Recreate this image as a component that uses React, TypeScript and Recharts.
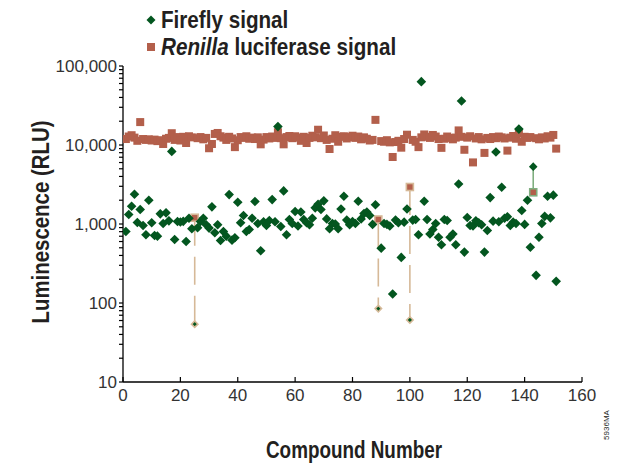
import React from 'react';
import { ScatterChart, Scatter, XAxis, YAxis, ReferenceLine } from 'recharts';

// compound numbers 1..151 on the x axis
const compounds = Array.from({ length: 151 }, (_, i) => i + 1);

const fireflySignal = [
  803, 1318, 1678, 2377, 1045, 1524, 958, 731, 1995, 1035,
  716, 702, 1345, 1014, 1384, 1096, 8300, 637, 1076, 1060,
  1080, 601, 1183, 869, 54, 896, 1076, 1183, 977, 888,
  1648, 774, 977, 619, 804, 702, 2357, 625, 670, 1888,
  1035, 1280, 804, 853, 1183, 1923, 1014, 459, 1070, 958,
  1106, 2037, 1070, 17100, 930, 2624, 731, 1140, 1014, 1438,
  943, 1418, 1140, 1035, 977, 1183, 1600, 1778, 1524, 1963,
  1160, 869, 1014, 999, 869, 1551, 2244, 1121, 977, 1076,
  1014, 1943, 1160, 1355, 1418, 1280, 988, 1750, 85, 495,
  1014, 988, 943, 130, 1121, 1035, 378, 1055, 1551, 61,
  1121, 1140, 731, 63400, 1943, 1140, 746, 852, 1014, 680,
  546, 1140, 1106, 680, 746, 546, 3214, 36100, 441, 1209,
  958, 943, 1096, 1035, 977, 441, 826, 2160, 1087, 8150,
  1070, 2917, 1183, 1234, 958, 1055, 1014, 15900, 1479, 988,
  1995, 507, 5318, 224, 680, 1014, 1250, 2244, 1197, 2319,
  188,
];

const renillaSignal = [
  11900, 12800, 13300, 12400, 11300, 19500, 11900, 11600, 11800, 11400,
  11700, 11200, 11500, 10300, 12000, 12300, 14100, 11600, 12600, 11400,
  12700, 10600, 12900, 12500, 1200, 12200, 12600, 11800, 12300, 9100,
  10300, 13800, 14200, 12900, 12400, 11600, 12700, 12100, 9400, 11500,
  12600, 12300, 12900, 12000, 12400, 11900, 12500, 10200, 11700, 12600,
  12100, 12800, 12300, 14500, 12200, 10200, 12600, 13000, 12200, 12900,
  12400, 11300, 12700, 10600, 12300, 13100, 12500, 15600, 12200, 13200,
  11600, 8900, 12000, 13300, 11000, 12700, 12900, 12100, 12600, 13100,
  12300, 12800, 11800, 12500, 12000, 11400, 11600, 20800, 1140, 11200,
  11000, 11500, 10800, 7050, 10900, 11300, 9250, 11900, 13500, 2940,
  11600, 11000, 9400, 12500, 13600, 12700, 12300, 13400, 12800, 11900,
  9200, 12000, 12800, 12300, 11800, 12400, 15300, 12700, 8700, 12400,
  12900, 6020, 12100, 12600, 11800, 7940, 12300, 11900, 12600, 12200,
  12800, 12500, 12100, 8490, 12400, 13000, 12000, 14000, 11000, 12700,
  12300, 12600, 2520, 12200, 11800, 12500, 12100, 12900, 12400, 13400,
  9000,
];

// compounds flagged with a dashed connector
const hitCompounds = [25, 89, 100, 143];

const xTicks = [0, 20, 40, 60, 80, 100, 120, 140, 160];
const yDecades = [10, 100, 1000, 10000, 100000];
const yTicks = yDecades.flatMap((d, i) =>
  i === yDecades.length - 1 ? [d] : [1, 2, 3, 4, 5, 6, 7, 8, 9].map((m) => m * d)
);

const GREEN = '#03561f';
const BROWN = '#b35f4b';
const TAN = '#d6b998';
const LIGHT_GREEN = '#7fae7f';
const boldFont = "'Liberation Sans', Arial, sans-serif";
const tickFont = "'Liberation Sans', Arial, sans-serif";

const fireflyData = compounds.map((c, i) => ({
  x: c, y: fireflySignal[i], hit: hitCompounds.includes(c), up: fireflySignal[i] > renillaSignal[i],
}));
const renillaData = compounds.map((c, i) => ({
  x: c, y: renillaSignal[i], hit: hitCompounds.includes(c), up: fireflySignal[i] > renillaSignal[i],
}));

const DiamondShape = (props: any) => {
  const { cx, cy, payload } = props;
  if (cx == null || cy == null) return null;
  if (payload.hit && !payload.up) {
    const r = 3.2;
    return (
      <path d={`M${cx},${cy - r}L${cx + r},${cy}L${cx},${cy + r}L${cx - r},${cy}Z`}
        fill={GREEN} stroke={TAN} strokeWidth={1.6} />
    );
  }
  const r = payload.hit ? 4.3 : 4.8;
  return <path d={`M${cx},${cy - r}L${cx + r},${cy}L${cx},${cy + r}L${cx - r},${cy}Z`} fill={GREEN} />;
};

const SquareShape = (props: any) => {
  const { cx, cy, payload } = props;
  if (cx == null || cy == null) return null;
  if (payload.hit) {
    return (
      <rect x={cx - 3.5} y={cy - 3.5} width={7} height={7} fill={BROWN}
        stroke={payload.up ? LIGHT_GREEN : TAN} strokeWidth={1.6} />
    );
  }
  return <rect x={cx - 4} y={cy - 4} width={8} height={8} fill={BROWN} />;
};

const XTick = (props: any) => {
  const { x, y, payload } = props;
  return (
    <g>
      <line x1={x} x2={x} y1={y} y2={y - 5} stroke="#000" strokeWidth={1.2} />
      <text x={x} y={y + 19} textAnchor="middle" fill="#333" fontSize={17} fontFamily={tickFont}>
        {payload.value}
      </text>
    </g>
  );
};

const fmtY = (v: number) => (yDecades.includes(v) ? v.toLocaleString('en-US') : '');

const titleStyle: React.CSSProperties = {
  position: 'absolute', fontFamily: boldFont, fontWeight: 700, color: '#231f20', whiteSpace: 'nowrap',
};

export default function App() {
  return (
    <div style={{ position: 'absolute', left: 0, top: 0, width: 623, height: 463, background: '#fff', overflow: 'hidden' }}>
      <ScatterChart width={623} height={463} margin={{ top: 66, right: 41, bottom: 51, left: 0 }}>
        <XAxis
          type="number" dataKey="x" domain={[0, 160]} ticks={xTicks} height={30}
          tickLine={false} tickSize={0} tickMargin={0} tick={<XTick />}
          axisLine={{ stroke: '#000', strokeWidth: 1.3 }} allowDataOverflow
        />
        <YAxis
          type="number" dataKey="y" scale="log" domain={[10, 100000]} ticks={yTicks} width={123}
          tickFormatter={fmtY} tickSize={4} tickMargin={2} interval={0}
          tickLine={{ stroke: '#000', strokeWidth: 1.2 }}
          axisLine={{ stroke: '#000', strokeWidth: 1.3 }}
          tick={{ fill: '#333', fontSize: 17, fontFamily: tickFont }}
          allowDataOverflow
        />
        {hitCompounds.map((c) => {
          const i = c - 1;
          const up = fireflySignal[i] > renillaSignal[i];
          return (
            <ReferenceLine
              key={c}
              segment={[{ x: c, y: renillaSignal[i] }, { x: c, y: fireflySignal[i] }]}
              stroke={up ? LIGHT_GREEN : TAN} strokeWidth={1.6} strokeDasharray="28 11"
              ifOverflow="visible"
            />
          );
        })}
        <Scatter data={renillaData} shape={<SquareShape />} isAnimationActive={false} />
        <Scatter data={fireflyData} shape={<DiamondShape />} isAnimationActive={false} />
      </ScatterChart>

      {/* legend */}
      <svg width={12} height={12} style={{ position: 'absolute', left: 145, top: 14 }}>
        <path d="M6,1.5L10.5,6L6,10.5L1.5,6Z" fill={GREEN} />
      </svg>
      <svg width={12} height={12} style={{ position: 'absolute', left: 145, top: 41 }}>
        <rect x={2} y={2} width={8} height={8} fill={BROWN} />
      </svg>
      <div style={{ ...titleStyle, left: 161, top: 20, fontSize: 24, lineHeight: '24px',
        transform: 'translateY(-50%) scaleX(0.86)', transformOrigin: 'left center' }}>
        Firefly signal
      </div>
      <div style={{ ...titleStyle, left: 161, top: 47, fontSize: 24, lineHeight: '24px',
        transform: 'translateY(-50%) scaleX(0.86)', transformOrigin: 'left center' }}>
        <i>Renilla</i> luciferase signal
      </div>

      {/* axis titles */}
      <div style={{ ...titleStyle, left: 354, top: 450, fontSize: 23, lineHeight: '24px',
        transform: 'translate(-50%, -50%) scaleX(0.82)' }}>
        Compound Number
      </div>
      <div style={{ ...titleStyle, left: 41, top: 222, fontSize: 24, lineHeight: '24px',
        transform: 'translate(-50%, -50%) rotate(-90deg) scaleX(0.85)' }}>
        Luminescence (RLU)
      </div>
      <div style={{ position: 'absolute', left: 606, top: 425, transform: 'translate(-50%, -50%) rotate(-90deg)',
        fontFamily: tickFont, fontSize: 8, color: '#231f20', whiteSpace: 'nowrap' }}>
        5936MA
      </div>
    </div>
  );
}
